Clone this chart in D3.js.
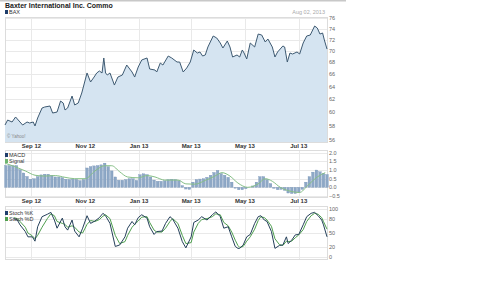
<!DOCTYPE html>
<html>
<head>
<meta charset="utf-8">
<script src="https://cdn.jsdelivr.net/npm/d3@7"></script>
<style>
  body { margin: 0; background: #fff; }
  svg { font-family: "Liberation Sans", Arial, sans-serif; }
  .grid line { stroke: #e9e9e9; shape-rendering: crispEdges; }
  .frame { fill: none; stroke: #dcdcdc; shape-rendering: crispEdges; }
  .ylab { font-size: 5.5px; fill: #666; }
  .xlab { font-size: 6px; fill: #333; font-weight: bold; }
</style>
</head>
<body>
<script>
// price (BAX close)
var priceDates = ["2012-08-02","2012-08-05","2012-08-10","2012-08-14","2012-08-19","2012-08-22","2012-08-27","2012-08-30",
  "2012-09-03","2012-09-05","2012-09-08","2012-09-13","2012-09-16","2012-09-22","2012-09-25","2012-09-30",
  "2012-10-04","2012-10-07","2012-10-09","2012-10-12","2012-10-17","2012-10-20","2012-10-24","2012-10-28",
  "2012-11-03","2012-11-07","2012-11-11","2012-11-14","2012-11-17","2012-11-20","2012-11-22","2012-11-24","2012-11-26","2012-11-29",
  "2012-12-04","2012-12-08","2012-12-13","2012-12-18","2012-12-24","2012-12-27","2012-12-31",
  "2013-01-04","2013-01-10","2013-01-13","2013-01-19","2013-01-21","2013-01-25","2013-01-28",
  "2013-02-03","2013-02-07","2013-02-13","2013-02-16","2013-02-20","2013-02-24","2013-02-28",
  "2013-03-04","2013-03-08","2013-03-11","2013-03-14","2013-03-17","2013-03-20","2013-03-26","2013-03-30",
  "2013-04-03","2013-04-06","2013-04-11","2013-04-14","2013-04-17","2013-04-22","2013-04-25","2013-04-28","2013-04-30",
  "2013-05-03","2013-05-07","2013-05-12","2013-05-16","2013-05-20","2013-05-24","2013-05-27",
  "2013-06-01","2013-06-04","2013-06-07","2013-06-13","2013-06-15","2013-06-18","2013-06-21","2013-06-24","2013-06-29",
  "2013-07-02","2013-07-06","2013-07-10","2013-07-14","2013-07-19","2013-07-22","2013-07-25","2013-07-28","2013-07-30","2013-08-02"];
var prices = [58.14,58.87,58.58,59.32,58.58,58.14,58.58,58.43,
  58.58,58.00,59.17,60.67,60.82,60.97,59.91,60.06,
  61.74,61.43,60.37,60.67,62.52,61.13,61.43,62.99,
  66.23,64.75,65.56,66.23,66.56,66.23,68.76,66.23,65.89,66.23,
  64.26,65.56,65.89,67.56,66.39,65.56,67.22,
  68.42,68.76,66.89,66.72,66.39,67.90,67.56,
  69.10,68.76,68.07,68.07,66.39,67.06,68.07,
  70.15,69.62,69.80,69.10,69.28,70.68,72.65,72.29,
  71.39,70.50,71.75,70.68,68.93,69.28,68.93,70.15,69.62,
  68.59,71.39,70.68,73.01,72.83,71.57,72.11,
  70.68,68.93,69.80,70.86,70.68,68.07,69.62,69.45,69.80,
  69.45,71.39,72.65,72.83,74.49,74.12,73.01,73.20,71.93,70.32];

// MACD histogram, one bar every 4 days from Aug 3 2012
var macdStart = "2012-08-03", macdStepDays = 4;
var macd = [1.26,1.26,1.26,1.26,1.03,0.83,0.63,0.47,0.50,0.62,0.72,0.76,0.76,0.70,0.60,0.60,
  0.56,0.47,0.45,0.47,0.46,0.39,0.45,1.12,1.20,1.24,1.26,1.30,1.40,1.20,0.95,0.60,
  0.41,0.41,0.45,0.50,0.50,0.40,0.73,0.78,0.74,0.60,0.42,0.35,0.35,0.38,0.45,0.47,
  0.45,0.38,0.10,-0.10,-0.12,0.30,0.45,0.48,0.50,0.58,0.70,0.86,0.98,0.80,0.70,0.58,
  0.30,-0.05,-0.14,-0.14,-0.08,0.00,0.08,0.30,0.62,0.62,0.45,0.22,-0.06,-0.14,-0.12,-0.18,
  -0.33,-0.36,-0.36,-0.30,-0.12,0.30,0.62,0.88,1.00,0.90,0.80,0.74];

// MACD signal line
var signalDates = ["2012-08-02","2012-08-13","2012-08-25","2012-09-05","2012-09-16","2012-09-28","2012-10-09","2012-10-20",
  "2012-11-01","2012-11-12","2012-11-23","2012-12-01","2012-12-10","2012-12-19","2012-12-31","2013-01-10","2013-01-19",
  "2013-01-30","2013-02-14","2013-02-23","2013-03-05","2013-03-17","2013-03-28","2013-04-05","2013-04-14","2013-04-23",
  "2013-05-04","2013-05-16","2013-05-24","2013-06-01","2013-06-10","2013-06-21","2013-07-02","2013-07-11","2013-07-22","2013-07-31"];
var signal = [1.40,1.20,0.95,0.70,0.65,0.68,0.58,0.50,
  0.50,0.95,1.25,1.25,0.90,0.60,0.55,0.68,0.60,
  0.42,0.42,0.20,0.18,0.40,0.65,0.85,0.65,0.25,
  0.00,0.20,0.50,0.35,0.00,-0.22,-0.30,0.10,0.60,0.85];

// slow stochastics
var stochDates = ["2012-08-12","2012-08-16","2012-08-19","2012-08-25","2012-08-28","2012-09-02","2012-09-05","2012-09-08",
  "2012-09-13","2012-09-19","2012-09-23","2012-09-27","2012-09-30","2012-10-06","2012-10-09","2012-10-12","2012-10-17",
  "2012-10-20","2012-10-25","2012-10-29","2012-11-03","2012-11-07","2012-11-12","2012-11-17","2012-11-21","2012-11-24",
  "2012-11-29","2012-12-05","2012-12-10","2012-12-16","2012-12-19","2012-12-24","2012-12-27","2012-12-31",
  "2013-01-04","2013-01-10","2013-01-13","2013-01-18","2013-01-21","2013-01-27","2013-01-31","2013-02-05","2013-02-08",
  "2013-02-14","2013-02-19","2013-02-23","2013-03-01","2013-03-04","2013-03-09","2013-03-13","2013-03-19","2013-03-25",
  "2013-03-29","2013-04-03","2013-04-07","2013-04-12","2013-04-16","2013-04-20","2013-04-23","2013-04-25","2013-04-29",
  "2013-05-03","2013-05-07","2013-05-12","2013-05-16","2013-05-19","2013-05-23","2013-05-26","2013-05-31",
  "2013-06-04","2013-06-09","2013-06-13","2013-06-17","2013-06-19","2013-06-23","2013-06-27","2013-07-01",
  "2013-07-06","2013-07-10","2013-07-15","2013-07-19","2013-07-23","2013-07-27","2013-07-29","2013-08-02"];
var stochK = [80,77,67,53,42,42,33,63,84,89,93,77,60,81,63,56,77,54,42,60,86,70,75,82,91,86,
  70,22,25,42,60,74,67,82,88,81,63,47,53,54,70,84,79,60,32,19,42,72,77,84,77,88,
  94,84,60,63,42,22,18,18,25,42,47,70,84,86,77,74,53,18,24,25,42,28,35,46,47,
  67,84,91,93,86,77,67,42];
var stochD = [82,80,74,62,50,44,38,45,62,80,90,86,74,70,68,62,65,62,52,50,68,76,74,78,85,88,
  80,45,28,32,45,62,68,75,83,84,72,56,52,52,60,74,80,70,45,28,30,52,70,78,80,84,
  90,88,72,65,52,35,24,20,22,33,42,58,76,84,82,77,64,38,26,24,33,32,33,40,46,
  57,74,86,91,89,82,74,58];

var priceTicks = [56,58,60,62,64,66,68,70,72,74,76];
var macdTicks = [-0.5,0,0.5,1,1.5,2];
var stochTicks = [0,20,50,80,100];

var width = 480, height = 300;
var left = 5, right = 327;
var parse = d3.timeParse("%Y-%m-%d");

var svg = d3.select("body").append("svg")
    .attr("width", width)
    .attr("height", height);

var x = d3.scaleTime()
    .domain([parse("2012-08-02"), parse("2013-08-02")])
    .range([left, right]);

var months = x.ticks(d3.timeMonth.every(2));

// widget top edge
svg.append("line")
    .attr("x1", 0).attr("x2", 346).attr("y1", 0.5).attr("y2", 0.5)
    .attr("stroke", "#c8c8c8").attr("stroke-width", 2);

function panel(top, bottom, y, ticks, fmt) {
    var g = svg.append("g");
    var grid = g.append("g").attr("class", "grid");
    grid.selectAll(".v").data(months).enter().append("line")
        .attr("x1", function(d) { return Math.round(x(d)) + 0.5; })
        .attr("x2", function(d) { return Math.round(x(d)) + 0.5; })
        .attr("y1", top).attr("y2", bottom);
    grid.selectAll(".h").data(ticks).enter().append("line")
        .attr("x1", left).attr("x2", right)
        .attr("y1", function(d) { return Math.round(y(d)) + 0.5; })
        .attr("y2", function(d) { return Math.round(y(d)) + 0.5; });
    g.append("rect").attr("class", "frame")
        .attr("x", left + 0.5).attr("y", top + 0.5)
        .attr("width", right - left).attr("height", bottom - top);
    // right axis labels
    g.selectAll(".ylab").data(ticks).enter().append("text")
        .attr("class", "ylab")
        .attr("x", right + 2)
        .attr("y", function(d) { return y(d) + 2; })
        .text(fmt);
    return g;
}

function monthLabels(yPos) {
    svg.append("g").selectAll("text").data(months).enter().append("text")
        .attr("class", "xlab")
        .attr("x", function(d) { return x(d); })
        .attr("y", yPos)
        .attr("text-anchor", "middle")
        .text(d3.timeFormat("%b %y"));
}

function legendItem(tx, ty, color, label) {
    svg.append("rect").attr("x", tx).attr("y", ty - 4).attr("width", 3).attr("height", 4).attr("fill", color);
    svg.append("text").attr("x", tx + 4).attr("y", ty)
        .attr("font-size", "5.5px").attr("fill", "#333").text(label);
}

// ---- price panel ----
var yP = d3.scaleLog().domain([56, 76]).range([140, 18]);
var pMain = panel(17, 142, yP, priceTicks, function(d) { return d; });

var priceData = priceDates.map(function(d, i) { return { date: parse(d), v: prices[i] }; });

pMain.append("path")
    .datum(priceData)
    .attr("fill", "#d5e4f1")
    .attr("d", d3.area()
        .x(function(d) { return x(d.date); })
        .y0(142)
        .y1(function(d) { return yP(d.v); }));

pMain.append("path")
    .datum(priceData)
    .attr("fill", "none")
    .attr("stroke", "#3e5a72")
    .attr("stroke-width", 1)
    .attr("d", d3.line()
        .x(function(d) { return x(d.date); })
        .y(function(d) { return yP(d.v); }));

svg.append("text").attr("x", 5).attr("y", 8)
    .attr("font-size", "7px").attr("font-weight", "bold").attr("fill", "#222")
    .text("Baxter International Inc. Commo");
legendItem(5, 14, "#1f3d6b", "BAX");
svg.append("text").attr("x", 325).attr("y", 14)
    .attr("text-anchor", "end").attr("font-size", "5.5px").attr("fill", "#aaa")
    .text("Aug 02, 2013");
svg.append("text").attr("x", 7).attr("y", 138)
    .attr("font-size", "4.5px").attr("fill", "#888").text("© Yahoo!");

monthLabels(148);

// ---- MACD panel ----
var yM = d3.scaleLinear().domain([-0.56, 2.16]).range([197, 150]);
var pMacd = panel(150, 197, yM, macdTicks, d3.format(".1f"));

var macdData = macd.map(function(v, i) {
    return { date: d3.timeDay.offset(parse(macdStart), i * macdStepDays), v: v };
});

pMacd.append("g").selectAll("rect").data(macdData).enter().append("rect")
    .attr("x", function(d) { return x(d.date) - 1.3; })
    .attr("width", 2.6)
    .attr("y", function(d) { return Math.min(yM(d.v), yM(0)); })
    .attr("height", function(d) { return Math.abs(yM(d.v) - yM(0)); })
    .attr("fill", "#8ea8c6")
    .attr("stroke", "#6d8db3")
    .attr("stroke-width", 0.3);

pMacd.append("path")
    .datum(signalDates.map(function(d, i) { return { date: parse(d), v: signal[i] }; }))
    .attr("fill", "none")
    .attr("stroke", "#86bf86")
    .attr("stroke-width", 1)
    .attr("d", d3.line().curve(d3.curveMonotoneX)
        .x(function(d) { return x(d.date); })
        .y(function(d) { return yM(d.v); }));

legendItem(5, 157, "#1f3d6b", "MACD");
legendItem(5, 163, "#6fb46f", "Signal");

monthLabels(203);

// ---- stochastics panel ----
var yS = d3.scaleLinear().domain([0, 100]).range([257, 209]);
var pSto = panel(206, 259, yS, stochTicks, function(d) { return d; });

var stoLine = d3.line()
    .x(function(d) { return x(d.date); })
    .y(function(d) { return yS(d.v); });

pSto.append("path")
    .datum(stochDates.map(function(d, i) { return { date: parse(d), v: stochD[i] }; }))
    .attr("fill", "none").attr("stroke", "#4f9f4f").attr("stroke-width", 1)
    .attr("d", stoLine);

pSto.append("path")
    .datum(stochDates.map(function(d, i) { return { date: parse(d), v: stochK[i] }; }))
    .attr("fill", "none").attr("stroke", "#25405a").attr("stroke-width", 1)
    .attr("d", stoLine);

legendItem(5, 215, "#1f3d6b", "Stoch %K");
legendItem(5, 221, "#4f9f4f", "Stoch %D");
</script>
</body>
</html>
